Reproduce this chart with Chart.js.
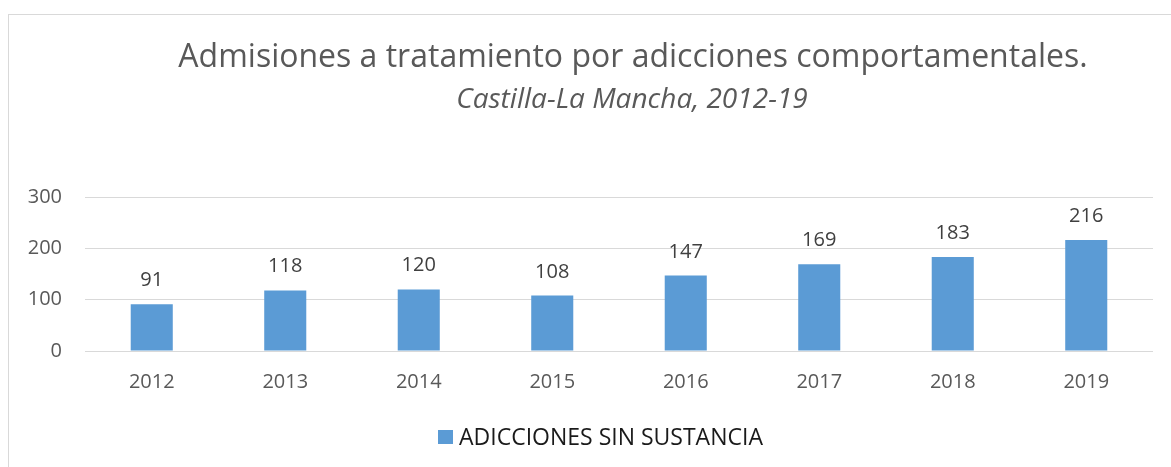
<!DOCTYPE html>
<html><head><meta charset="utf-8">
<script src="https://cdn.jsdelivr.net/npm/chart.js@4"></script>
<style>html,body{margin:0;padding:0;background:#fff;}#wrap{width:1171px;height:467px;position:relative;}</style>
</head><body><div id="wrap"><canvas id="c" width="1171" height="467"></canvas></div>
<script>
const categories = ['2012','2013','2014','2015','2016','2017','2018','2019'];
const values = [91,118,120,108,147,169,183,216];
const yTicks = [0,100,200,300];
const seriesName = 'ADICCIONES SIN SUSTANCIA';
const titleText = 'Admisiones a tratamiento por adicciones comportamentales.';
const subtitleText = 'Castilla-La Mancha, 2012-19';
const FONT = '"Open Sans", sans-serif';

const decor = {
  id: 'decor',
  beforeDraw(chart) {
    const ctx = chart.ctx;
    ctx.save();
    ctx.strokeStyle = '#d9d9d9';
    ctx.lineWidth = 1;
    ctx.strokeRect(8.5, 14.5, 1300, 600);
    ctx.restore();
  },
  afterDraw(chart) {
    const ctx = chart.ctx;
    ctx.save();
    ctx.fillStyle = '#595959';
    ctx.textAlign = 'center';
    ctx.textBaseline = 'alphabetic';
    ctx.font = '32px ' + FONT;
    ctx.fillText(titleText, 633, 67);
    ctx.font = 'italic 28px ' + FONT;
    ctx.fillText(subtitleText, 632, 108);
    // data labels
    const meta = chart.getDatasetMeta(0);
    ctx.fillStyle = '#404040';
    ctx.font = '20px ' + FONT;
    meta.data.forEach((bar, i) => {
      ctx.fillText(String(values[i]), bar.x, bar.y - 18);
    });
    // legend
    const ds = chart.data.datasets[0];
    ctx.font = '23px ' + FONT;
    ctx.textAlign = 'left';
    ctx.fillStyle = ds.backgroundColor;
    ctx.fillRect(438, 430, 15, 14);
    ctx.fillStyle = '#1a1a1a';
    ctx.fillText(ds.label, 459, 445);
    ctx.restore();
  }
};

new Chart(document.getElementById('c'), {
  type: 'bar',
  data: {
    labels: categories,
    datasets: [{
      label: seriesName,
      data: values,
      backgroundColor: '#5b9bd5',
      barPercentage: 0.315,
      categoryPercentage: 1.0
    }]
  },
  options: {
    responsive: false,
    animation: false,
    layout: { padding: { left: 0, right: 18, top: 197, bottom: 0 } },
    plugins: {
      legend: { display: false },
      tooltip: { enabled: false }
    },
    scales: {
      x: {
        afterFit(scale) { scale.height = 116; },
        grid: { display: false, drawTicks: false },
        border: { display: false },
        ticks: { color: '#595959', font: { family: FONT, size: 20 }, padding: 19 }
      },
      y: {
        min: 0, max: 300,
        afterFit(scale) { scale.width = 85; },
        afterBuildTicks(scale) { scale.ticks = yTicks.map(v => ({ value: v })); },
        grid: { color: '#d9d9d9', lineWidth: 1, drawTicks: false },
        border: { display: false },
        ticks: { color: '#595959', font: { family: FONT, size: 20 }, padding: 23 }
      }
    }
  },
  plugins: [decor]
});
</script>
</body></html>
